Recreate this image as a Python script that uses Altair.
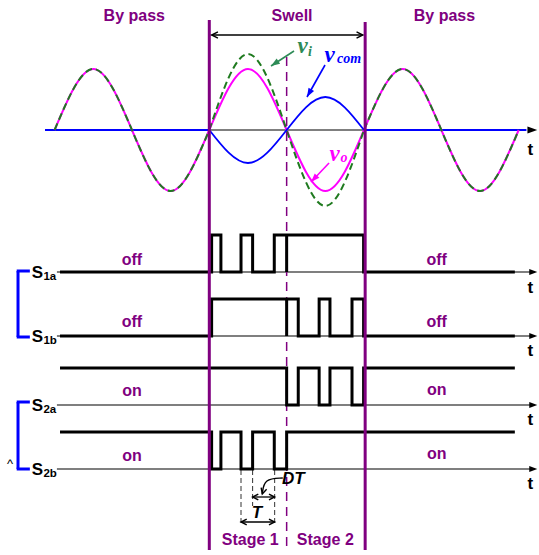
import math
import altair as alt
import pandas as pd

# ---------------- canvas / scales ----------------
W, H = 539, 555
PX_PER_MS = 7.735          # horizontal time scale
ORIGIN_PX = 54.6           # where t = 0 ms sits
X_DOMAIN = [-ORIGIN_PX / PX_PER_MS, (W - ORIGIN_PX) / PX_PER_MS]

XS = alt.Scale(domain=X_DOMAIN, nice=False, zero=False)
YS = alt.Scale(domain=[0, H], nice=False, zero=False, reverse=True)

PURPLE = "#800080"
GREEN_DASH = "#1F7A1F"
GREEN_LABEL = "#2E8B57"
MAGENTA = "#FF00FF"
BLUE = "#0000FF"
BLACK = "#000000"
GREY = "#555555"

SANS = "Liberation Sans"
SERIF = "Liberation Serif"

# ---------------- operating modes (ms) ----------------
SWELL_BOUNDS_T = [20.0, 40.15]
STAGE_SPLIT_T = 30.0

# ---------------- voltage waveforms ----------------
WAVE_AXIS_Y = 130
WAVE_T = [0, 5, 10, 15, 20, 25, 30, 35, 40, 45, 50, 55, 60]
VO_VALUES = [0, 61, 0, -61, 0, 61, 0, -61, 0, 61, 0, -61, 0]
VI_VALUES = [0, 61, 0, -61, 0, 76, 0, -76, 0, 61, 0, -61, 0]
VCOM_T = [20, 25, 30, 35, 40]
VCOM_VALUES = [0, -33, 0, 33, 0]

# ---------------- switching signals ----------------
SWITCH_SUB = ["1a", "1b", "2a", "2b"]
ROW_Y = [272, 336, 405, 469]
PULSE_H = 37
START_LEVEL = [0, 0, 1, 1]
TOGGLE_T = [
    [20.3, 21.5, 24.1, 25.6, 28.4, 30.0, 30.0, 39.95],
    [20.3, 30.0, 30.0, 31.5, 34.2, 35.6, 38.45, 39.95],
    [30.0, 31.5, 34.2, 35.6, 38.45, 39.95],
    [20.3, 21.5, 24.1, 25.6, 28.4, 30.0],
]
TRACE_T = [0.7, 59.5]
BASELINE_T = [0.3, 61.6]
ARROW_TIP_T = 62.4

STATE_LEFT = ["off", "off", "on", "on"]
STATE_LEFT_Y = [260, 322, 391, 456]
STATE_RIGHT_Y = [260, 322, 390, 454]
STATE_T = [10.0, 49.4]

HEAD_TEXT = ["By pass", "Swell", "By pass"]
HEAD_T = [10.3, 30.7, 50.4]
STAGE_TEXT = ["Stage 1", "Stage 2"]
STAGE_T = [25.3, 35.0]
T_LABEL_Y = [150, 288, 351, 420, 484]

# PWM period / dead-time markers
MARK_T = [24.1, 25.6, 28.45]
T_ARROW_Y = 522
DT_ARROW_Y = 497


def heading(t0, y0, t1, y1):
    """Clockwise angle (deg) of the segment direction on screen, 0 = up."""
    dx = (t1 - t0) * PX_PER_MS
    dy = y1 - y0
    return math.degrees(math.atan2(dx, -dy)) % 360


def X(f="t"):
    return alt.X(f"{f}:Q", scale=XS, axis=None)


def Y(f="y"):
    return alt.Y(f"{f}:Q", scale=YS, axis=None)


# ---------------- waveform data ----------------
vo = pd.DataFrame({"t": WAVE_T, "y": [WAVE_AXIS_Y - v for v in VO_VALUES]})
vi_rows = []
for seg, (a, b) in enumerate([(0, 20), (20, 40), (40, 60)]):
    for t, v in zip(WAVE_T, VI_VALUES):
        if a <= t <= b:
            vi_rows.append({"t": t, "y": WAVE_AXIS_Y - v, "seg": seg})
vi = pd.DataFrame(vi_rows)
vcom = pd.DataFrame({"t": VCOM_T, "y": [WAVE_AXIS_Y - v for v in VCOM_VALUES]})

# ---------------- trace data ----------------
trace_rows = []
for k, sub in enumerate(SWITCH_SUB):
    lvl = START_LEVEL[k]
    pts = [(TRACE_T[0], lvl)]
    for t in TOGGLE_T[k]:
        pts.append((t, lvl))
        lvl = 1 - lvl
        pts.append((t, lvl))
    pts.append((TRACE_T[1], lvl))
    for i, (t, l) in enumerate(pts):
        trace_rows.append({"sig": sub, "i": i, "t": t, "y": ROW_Y[k] - PULSE_H * l})
traces = pd.DataFrame(trace_rows)

# ---------------- straight segments ----------------
seg_rows = []


def seg(t, t2, y, y2, color, w):
    seg_rows.append({"t": t, "t2": t2, "y": y, "y2": y2, "color": color, "w": w})


# top time axis
seg(-1.24, SWELL_BOUNDS_T[0], WAVE_AXIS_Y, WAVE_AXIS_Y, BLUE, 2)
seg(SWELL_BOUNDS_T[0], 40.0, WAVE_AXIS_Y, WAVE_AXIS_Y, BLACK, 1.2)
seg(40.0, 61.0, WAVE_AXIS_Y, WAVE_AXIS_Y, BLUE, 2)
# switching-signal time axes
for y in ROW_Y:
    seg(BASELINE_T[0], BASELINE_T[1], y, y, GREY, 1.3)
# brackets grouping S1 and S2
for ya, yb in [(ROW_Y[0] - 1, ROW_Y[1] + 1), (ROW_Y[2] - 3, ROW_Y[3])]:
    seg(-4.73, -4.73, ya, yb, BLUE, 3)
    seg(-4.9, -3.2, ya, ya, BLUE, 3)
    seg(-4.9, -3.2, yb, yb, BLUE, 3)
# swell span arrow
seg(20.3, 39.8, 35, 35, BLACK, 1.5)
# T and DT arrows
seg(MARK_T[0], MARK_T[2], T_ARROW_Y, T_ARROW_Y, BLACK, 1.3)
seg(MARK_T[1], MARK_T[2], DT_ARROW_Y, DT_ARROW_Y, BLACK, 1.3)
segs = pd.DataFrame(seg_rows)

purple_rows = [
    {"t": SWELL_BOUNDS_T[0], "t2": SWELL_BOUNDS_T[0], "y": 20, "y2": 550, "color": PURPLE, "w": 3},
    {"t": SWELL_BOUNDS_T[1], "t2": SWELL_BOUNDS_T[1], "y": 22, "y2": 550, "color": PURPLE, "w": 3},
]
purple = pd.DataFrame(purple_rows)
purple_dash = pd.DataFrame([{"t": STAGE_SPLIT_T, "t2": STAGE_SPLIT_T, "y": 57, "y2": 551}])
mark_dash = pd.DataFrame([
    {"t": MARK_T[0], "t2": MARK_T[0], "y": ROW_Y[3] + 1, "y2": 524},
    {"t": MARK_T[1], "t2": MARK_T[1], "y": ROW_Y[3] + 1, "y2": 506},
    {"t": MARK_T[2], "t2": MARK_T[2], "y": ROW_Y[3] + 1, "y2": 524},
])

# ---------------- label arrows ----------------
LABEL_ARROWS = [
    (30.95, 51, 27.98, 66, GREEN_LABEL),
    (34.96, 65, 32.63, 97, BLUE),
    (35.48, 163, 33.15, 182, MAGENTA),
]
arrow_lines = pd.DataFrame([
    {"t": a, "y": b, "t2": c, "y2": d, "color": col, "w": 1.6}
    for a, b, c, d, col in LABEL_ARROWS
])

filled_heads = [
    {"t": c, "y": d, "angle": heading(a, b, c, d), "color": col, "size": 120}
    for a, b, c, d, col in LABEL_ARROWS
]
filled_heads.append({"t": ARROW_TIP_T, "y": WAVE_AXIS_Y, "angle": 90, "color": BLACK, "size": 150})
for y in ROW_Y:
    filled_heads.append({"t": ARROW_TIP_T, "y": y, "angle": 90, "color": BLACK, "size": 100})
filled_heads = pd.DataFrame(filled_heads)

# curved pointer from the "DT" label
dt_curve = pd.DataFrame({"t": [29.5, 27.1, 26.85], "y": [478, 478.5, 494], "i": [0, 1, 2]})

open_heads = pd.DataFrame([
    {"t": 20.3, "y": 35, "angle": 270, "color": BLACK, "size": 110},
    {"t": 39.85, "y": 35, "angle": 90, "color": BLACK, "size": 110},
    {"t": MARK_T[0], "y": T_ARROW_Y, "angle": 270, "color": BLACK, "size": 90},
    {"t": MARK_T[2], "y": T_ARROW_Y, "angle": 90, "color": BLACK, "size": 90},
    {"t": MARK_T[1], "y": DT_ARROW_Y, "angle": 270, "color": BLACK, "size": 90},
    {"t": MARK_T[2], "y": DT_ARROW_Y, "angle": 90, "color": BLACK, "size": 90},
    {"t": 26.85, "y": 494, "angle": heading(26.95, 487, 26.85, 494) + 10, "color": BLACK, "size": 90},
])

HEAD_PATH = "M0,0 L-0.58,1.6 L0.58,1.6 Z"
CHEVRON_PATH = "M-0.6,1.2 L0,0 L0.6,1.2"

# ---------------- texts ----------------
bold_center = []
for txt, t in zip(HEAD_TEXT, HEAD_T):
    bold_center.append({"t": t, "y": 16, "label": txt, "color": PURPLE, "fs": 16})
for k in range(4):
    bold_center.append({"t": STATE_T[0], "y": STATE_LEFT_Y[k], "label": STATE_LEFT[k], "color": PURPLE, "fs": 16})
    bold_center.append({"t": STATE_T[1], "y": STATE_RIGHT_Y[k], "label": STATE_LEFT[k], "color": PURPLE, "fs": 16})
for txt, t in zip(STAGE_TEXT, STAGE_T):
    bold_center.append({"t": t, "y": 540, "label": txt, "color": PURPLE, "fs": 16})
for y in T_LABEL_Y:
    bold_center.append({"t": 61.5, "y": y, "label": "t", "color": BLACK, "fs": 17})
bold_center = pd.DataFrame(bold_center)

bold_left = []
for k, sub in enumerate(SWITCH_SUB):
    bold_left.append({"t": -2.95, "y": ROW_Y[k] + 1, "label": "S", "color": BLACK, "fs": 17})
    bold_left.append({"t": -1.45, "y": ROW_Y[k] + 5, "label": sub, "color": BLACK, "fs": 11.5})
bold_left = pd.DataFrame(bold_left)

italic_sans = pd.DataFrame([
    {"t": 29.4, "y": 479, "label": "DT", "color": BLACK, "fs": 17, "align": "left"},
])
italic_sans_c = pd.DataFrame([
    {"t": 26.17, "y": 513, "label": "T", "color": BLACK, "fs": 17},
])

serif_labels = pd.DataFrame([
    {"t": 31.4, "y": 45.5, "label": "v", "color": GREEN_LABEL, "fs": 23},
    {"t": 32.75, "y": 51.5, "label": "i", "color": GREEN_LABEL, "fs": 14},
    {"t": 34.9, "y": 54.5, "label": "v", "color": BLUE, "fs": 23},
    {"t": 36.5, "y": 59, "label": "com", "color": BLUE, "fs": 14},
    {"t": 35.55, "y": 153.5, "label": "v", "color": MAGENTA, "fs": 23},
    {"t": 36.95, "y": 158, "label": "o", "color": MAGENTA, "fs": 14},
])

caret = pd.DataFrame([{"t": -5.77, "y": 464, "label": "^"}])

# ---------------- layers ----------------
def rules(df, **mk):
    return alt.Chart(df).mark_rule(strokeCap="butt", **mk).encode(
        x=X("t"), x2=alt.X2("t2:Q"), y=Y("y"), y2=alt.Y2("y2:Q"),
        color=alt.Color("color:N", scale=None),
        strokeWidth=alt.StrokeWidth("w:Q", scale=None),
    )


layers = [
    rules(segs),
    alt.Chart(vo).mark_line(color=MAGENTA, strokeWidth=2, interpolate="natural").encode(x=X(), y=Y()),
    alt.Chart(vi).mark_line(color=GREEN_DASH, strokeWidth=2, strokeDash=[7, 4], interpolate="natural").encode(
        x=X(), y=Y(), detail="seg:N"),
    alt.Chart(vcom).mark_line(color=BLUE, strokeWidth=1.8, interpolate="natural").encode(x=X(), y=Y()),
    alt.Chart(purple_dash).mark_rule(color=PURPLE, strokeWidth=1.5, strokeDash=[9, 6]).encode(
        x=X("t"), y=Y("y"), y2=alt.Y2("y2:Q")),
    alt.Chart(mark_dash).mark_rule(color="#333333", strokeWidth=1, strokeDash=[5, 3]).encode(
        x=X("t"), y=Y("y"), y2=alt.Y2("y2:Q")),
    alt.Chart(traces).mark_line(color=BLACK, strokeWidth=3, strokeJoin="miter").encode(
        x=X(), y=Y(), detail="sig:N", order="i:Q"),
    rules(purple),
    rules(arrow_lines),
    alt.Chart(dt_curve).mark_line(color=BLACK, strokeWidth=1.4, interpolate="basis").encode(
        x=X(), y=Y(), order="i:Q"),
    alt.Chart(filled_heads).mark_point(shape=HEAD_PATH, filled=True, opacity=1, strokeWidth=0).encode(
        x=X(), y=Y(), color=alt.Color("color:N", scale=None),
        size=alt.Size("size:Q", scale=None), angle=alt.Angle("angle:Q", scale=None)),
    alt.Chart(open_heads).mark_point(shape=CHEVRON_PATH, filled=False, opacity=1, strokeWidth=1.4).encode(
        x=X(), y=Y(), color=alt.Color("color:N", scale=None),
        size=alt.Size("size:Q", scale=None), angle=alt.Angle("angle:Q", scale=None)),
    alt.Chart(bold_center).mark_text(font=SANS, fontWeight="bold", align="center", baseline="middle").encode(
        x=X(), y=Y(), text="label:N", color=alt.Color("color:N", scale=None),
        size=alt.Size("fs:Q", scale=None)),
    alt.Chart(bold_left).mark_text(font=SANS, fontWeight="bold", align="left", baseline="middle").encode(
        x=X(), y=Y(), text="label:N", color=alt.Color("color:N", scale=None),
        size=alt.Size("fs:Q", scale=None)),
    alt.Chart(italic_sans).mark_text(font=SANS, fontWeight="bold", fontStyle="italic", align="left",
                                     baseline="middle").encode(
        x=X(), y=Y(), text="label:N", color=alt.Color("color:N", scale=None),
        size=alt.Size("fs:Q", scale=None)),
    alt.Chart(italic_sans_c).mark_text(font=SANS, fontWeight="bold", fontStyle="italic", align="center",
                                       baseline="middle").encode(
        x=X(), y=Y(), text="label:N", color=alt.Color("color:N", scale=None),
        size=alt.Size("fs:Q", scale=None)),
    alt.Chart(serif_labels).mark_text(font=SERIF, fontWeight="bold", fontStyle="italic", align="left",
                                      baseline="middle").encode(
        x=X(), y=Y(), text="label:N", color=alt.Color("color:N", scale=None),
        size=alt.Size("fs:Q", scale=None)),
    alt.Chart(caret).mark_text(font=SANS, fontSize=13, color=BLACK, align="center", baseline="middle").encode(
        x=X(), y=Y(), text="label:N"),
]

chart = alt.layer(*layers).properties(
    width=W, height=H, padding=0, background="white",
    autosize=alt.AutoSizeParams(type="none"),
).configure_view(strokeWidth=0)

chart.save("out.html", embed_options={"renderer": "svg", "actions": False})
